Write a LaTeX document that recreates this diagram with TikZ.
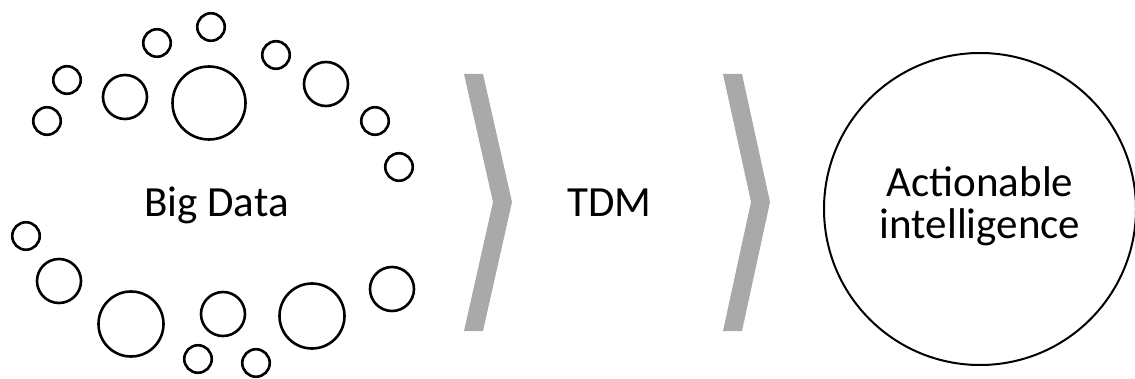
\documentclass[tikz,border=0pt]{standalone}
\usepackage{fontspec}
\setmainfont{Carlito}
\begin{document}
\begin{tikzpicture}[x=1pt,y=-1pt,
  dot/.style={circle,draw=black,line width=2.6pt,inner sep=0pt,minimum size=#1},
  chev/.style={fill=chevgray,draw=none},
  lbl/.style={inner sep=0pt,anchor=base,font=\fontsize{43}{39}\selectfont}]
\definecolor{chevgray}{HTML}{A9A9A9}
\useasboundingbox (0,0) rectangle (1135,379);
% upper arc of circles
\node[dot=27.5] (u1) at (157,43) {};
\node[dot=27.5] (u2) at (211,27) {};
\node[dot=27.5] (u3) at (67,80) {};
\node[dot=27.5] (u4) at (47,121) {};
\node[dot=44] (u5) at (125,97) {};
\node[dot=73] (u6) at (209,103) {};
\node[dot=27.5] (u7) at (276,55) {};
\node[dot=44] (u8) at (326,84) {};
\node[dot=27.5] (u9) at (375,121) {};
\node[dot=27.5] (u10) at (399,167) {};
% lower arc of circles
\node[dot=27.5] (l1) at (26,236) {};
\node[dot=44] (l2) at (59,281) {};
\node[dot=65] (l3) at (131,324) {};
\node[dot=44] (l4) at (223,314) {};
\node[dot=65] (l5) at (312,316) {};
\node[dot=44] (l6) at (392,289) {};
\node[dot=27.5] (l7) at (198,359) {};
\node[dot=27.5] (l8) at (256,363) {};
% labels
\node[lbl] (bigdata) at (216.5,217) {Big Data};
\node[lbl] (tdm) at (609.5,217) {TDM};
% chevrons
\path[chev] (464,74) -- (483,74) -- (512,202) -- (483,331) -- (464,331) -- (493,202) -- cycle;
\path[chev] (723,74) -- (742,74) -- (770,202) -- (742,331) -- (723,331) -- (751,202) -- cycle;
% result circle
\node[circle,draw=black,line width=2pt,inner sep=0pt,minimum size=312] (ai) at (980,209) {};
\node[lbl] (ai1) at (980,197) {Actionable};
\node[lbl] (ai2) at (980,239) {intelligence};
\end{tikzpicture}
\end{document}
